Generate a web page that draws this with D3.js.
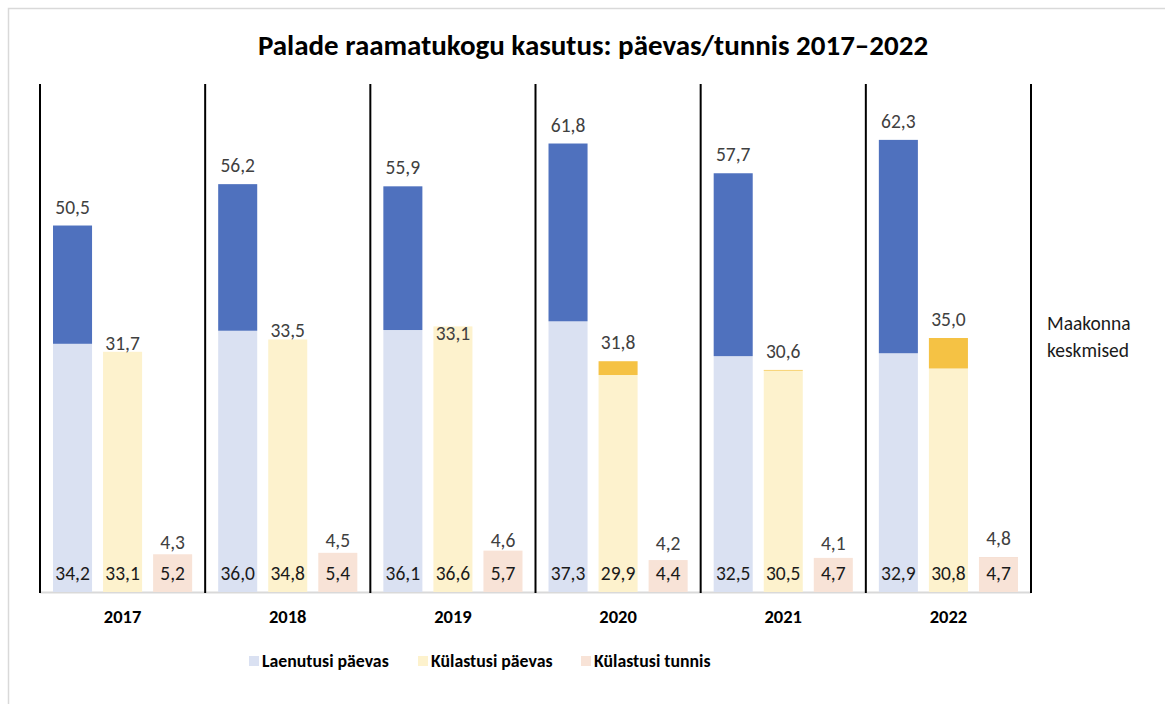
<!DOCTYPE html>
<html>
<head>
<meta charset="utf-8">
<script src="https://cdn.jsdelivr.net/npm/d3@7"></script>
<style>
  body { margin: 0; background: #fff; }
  text { font-family: Carlito, Lato, "Open Sans", sans-serif; }
</style>
</head>
<body>
<div id="chart"></div>
<script>
"use strict"

// data
let years = ["2017", "2018", "2019", "2020", "2021", "2022"];
let laenutusi = [34.2, 36.0, 36.1, 37.3, 32.5, 32.9];
let laenutusiMk = [50.5, 56.2, 55.9, 61.8, 57.7, 62.3];
let kylastusi = [33.1, 34.8, 36.6, 29.9, 30.5, 30.8];
let kylastusiMk = [31.7, 33.5, 33.1, 31.8, 30.6, 35.0];
let tunnis = [5.2, 5.4, 5.7, 4.4, 4.7, 4.7];
let tunnisMk = [4.3, 4.5, 4.6, 4.2, 4.1, 4.8];
let seriesNames = ["Laenutusi päevas", "Külastusi päevas", "Külastusi tunnis"];

let lightColors = ["#dae1f2", "#fdf2cd", "#f8e3d7"];
let darkColors = ["#4f71be", "#f5c244", "#f3d6c6"];

let width = 1165, height = 704;

let svg = d3.select("#chart").append("svg")
    .attr("width", width)
    .attr("height", height);

// light frame
svg.append("path")
    .attr("d", "M8.5," + height + "V8.5H" + width)
    .style("fill", "none")
    .style("stroke", "#d9d9d9")
    .style("stroke-width", "1.5px");

svg.append("text")
    .attr("x", 593)
    .attr("y", 55)
    .attr("text-anchor", "middle")
    .style("font-size", "29px")
    .style("font-weight", "bold")
    .style("fill", "#000")
    .text("Palade raamatukogu kasutus: päevas/tunnis 2017–2022");

let x0 = d3.scaleBand()
    .domain(years)
    .range([40, 1031]);

let x1 = d3.scaleBand()
    .domain([0, 1, 2])
    .range([0, x0.bandwidth()])
    .paddingInner(0.22)
    .paddingOuter(0.26);

let y = d3.scaleLinear()
    .domain([0, 70])
    .range([592, 84]);

let fmt = function(v) {
    return d3.format(".1f")(v).replace(".", ",");
};

// baseline
svg.append("line")
    .attr("x1", x0.range()[0])
    .attr("x2", x0.range()[1])
    .attr("y1", y(0) + 0.5)
    .attr("y2", y(0) + 0.5)
    .style("stroke", "#d9d9d9")
    .style("stroke-width", "2px");

let rows = years.map(function(yr, i) {
    return [
        { own: laenutusi[i], county: laenutusiMk[i] },
        { own: kylastusi[i], county: kylastusiMk[i] },
        { own: tunnis[i], county: tunnisMk[i] }
    ];
});

years.forEach(function(yr, i) {
    let g = svg.append("g")
        .attr("transform", "translate(" + x0(yr) + ",0)");

    rows[i].forEach(function(d, s) {
        let bx = x1(s), bw = x1.bandwidth();

        g.append("rect")
            .attr("x", bx)
            .attr("y", y(d.own))
            .attr("width", bw)
            .attr("height", y(0) - y(d.own))
            .style("fill", lightColors[s]);

        // part of the county average above own value
        if (d.county > d.own) {
            g.append("rect")
                .attr("x", bx)
                .attr("y", y(d.county))
                .attr("width", bw)
                .attr("height", y(d.own) - y(d.county))
                .style("fill", darkColors[s]);
        }

        // county average above
        g.append("text")
            .attr("x", bx + bw / 2)
            .attr("y", y(d.county) - 12)
            .attr("text-anchor", "middle")
            .style("font-size", "19.5px")
            .style("fill", "#404040")
            .text(fmt(d.county));

        // own value at bottom
        g.append("text")
            .attr("x", bx + bw / 2)
            .attr("y", y(0) - 12)
            .attr("text-anchor", "middle")
            .style("font-size", "19.5px")
            .style("fill", "#1a1a1a")
            .text(fmt(d.own));
    });

    g.append("text")
        .attr("x", x0.bandwidth() / 2)
        .attr("y", 623)
        .attr("text-anchor", "middle")
        .style("font-size", "18.5px")
        .style("font-weight", "bold")
        .style("fill", "#000")
        .text(yr);
});

// separators
let sepX = years.map(function(yr) { return x0(yr); }).concat([x0.range()[1]]);
svg.selectAll(".sep")
    .data(sepX)
    .enter().append("line")
    .attr("class", "sep")
    .attr("x1", function(d) { return d; })
    .attr("x2", function(d) { return d; })
    .attr("y1", y(70))
    .attr("y2", y(0) + 1)
    .style("stroke", "#000")
    .style("stroke-width", "2px");

// side note
let note = svg.append("text")
    .attr("x", 1047)
    .attr("y", 330)
    .style("font-size", "19.5px")
    .style("fill", "#1a1a1a");
note.append("tspan").attr("x", 1047).text("Maakonna");
note.append("tspan").attr("x", 1047).attr("dy", 27).text("keskmised");

// legend
let legendX = [249, 418, 581];
seriesNames.forEach(function(name, s) {
    svg.append("rect")
        .attr("x", legendX[s])
        .attr("y", 656)
        .attr("width", 10)
        .attr("height", 10)
        .style("fill", lightColors[s]);
    svg.append("text")
        .attr("x", legendX[s] + 13)
        .attr("y", 667)
        .style("font-size", "17.8px")
        .style("font-weight", "bold")
        .style("fill", "#000")
        .text(name);
});
</script>
</body>
</html>
